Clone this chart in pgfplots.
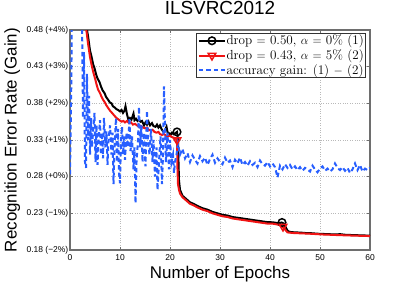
\documentclass[border=0pt]{standalone}
\usepackage{fontspec}
\setmainfont{Liberation Sans}
\newfontfamily\lmr{Latin Modern Roman}
\usepackage{pgfplots}
\pgfplotsset{compat=1.18}
\definecolor{myred}{RGB}{240,20,20}
\definecolor{myblue}{RGB}{40,95,255}
\definecolor{axgray}{RGB}{110,110,110}
\begin{document}
\begin{tikzpicture}
\begin{axis}[
  scale only axis, width=300bp, height=220bp,
  xmin=0, xmax=60, ymin=0.18, ymax=0.48,
  xtick={0,10,20,30,40,50,60},
  xticklabels={0,10,20,30,40,50,60},
  ytick={0.18,0.23,0.28,0.33,0.38,0.43,0.48},
  yticklabels={0.18 (−2\%),0.23 (−1\%),0.28 (+0\%),0.33 (+1\%),0.38 (+2\%),0.43 (+3\%),0.48 (+4\%)},
  /pgf/number format/assume math mode=true,
  ticklabel style={font=\fontsize{8.5}{10}\selectfont},
  yticklabel style={inner sep=1.5bp},
  xticklabel style={inner sep=1bp, yshift=-3bp},
  tick align=inside, major tick length=3bp,
  tick style={axgray, line width=0.6bp},
  axis line style={axgray, line width=1.2bp},
  grid=major, major grid style={dotted, gray!55, line width=0.6bp},
  title={ILSVRC2012},
  title style={font=\fontsize{19}{22}\selectfont, at={(axis description cs:0.5,1.0455)}, anchor=base},
  xlabel={Number of Epochs},
  xlabel style={font=\fontsize{17}{20}\selectfont, at={(axis description cs:0.5,-0.1286)}, anchor=base},
  ylabel={Recognition Error Rate (Gain)},
  ylabel style={font=\fontsize{17}{20}\selectfont, at={(axis description cs:-0.1777,0.5)}, anchor=base},
  legend style={at={(axis description cs:0.9867,0.9864)}, anchor=north east, draw=black!80, line width=0.6bp, fill=white,
    font=\lmr\fontsize{13.2}{15}\selectfont, inner sep=1.2bp, row sep=2.2bp, cells={anchor=west},
    nodes={inner sep=0.6bp}},
  legend image code/.code={\draw[mark repeat=2,mark phase=2] plot coordinates {(0bp,0bp) (13bp,0bp) (26bp,0bp)};},
]
\coordinate (SW) at (rel axis cs:0,0);
\coordinate (NE) at (rel axis cs:1,1);
\addlegendimage{black, line width=2bp, mark=o, mark size=3.8bp, mark options={solid, line width=1.5bp}}
\addlegendentry{drop $=$ 0.50, $\alpha$ $=$ 0\% (1)}
\addlegendimage{myred, line width=2bp, mark=triangle, mark size=4.4bp, mark options={solid, rotate=180, line width=1.5bp}}
\addlegendentry{drop $=$ 0.43, $\alpha$ $=$ 5\% (2)}
\addlegendimage{myblue, line width=2bp, dash pattern=on 4.5bp off 3bp}
\addlegendentry{accuracy gain: (1) $-$ (2)}

% (1) drop = 0.50
\addplot[black, line width=2bp, forget plot] coordinates {
(0,0.95) (1,0.75) (2,0.58) (2.5,0.52) (3,0.495) (3.3,0.484) (3.6,0.472) (4.0,0.452) (4.3,0.444) (4.6,0.434) (4.9,0.428) (5.2,0.420) (5.5,0.414) (5.9,0.409) (6.2,0.403) (6.5,0.398) (6.9,0.394) (7.2,0.389) (7.6,0.385) (8.0,0.381) (8.3,0.380) (8.6,0.376) (9.0,0.374) (9.3,0.372) (9.6,0.371) (10.0,0.369) (10.3,0.371) (10.6,0.367) (10.9,0.370) (11.1,0.376) (11.4,0.365) (11.7,0.357) (12.0,0.360) (12.3,0.358) (12.5,0.362) (12.7,0.366) (12.9,0.357) (13.2,0.359) (13.5,0.356) (13.8,0.358) (14.1,0.355) (14.4,0.356) (14.8,0.350) (15.1,0.354) (15.4,0.351) (15.7,0.355) (16.0,0.350) (16.4,0.353) (16.7,0.349) (17.1,0.348) (17.4,0.351) (17.7,0.347) (18.0,0.350) (18.3,0.345) (18.7,0.341) (19.0,0.343) (19.3,0.348) (19.5,0.341) (19.8,0.339) (20.1,0.337) (20.4,0.340) (20.7,0.338) (21.0,0.339) (21.4,0.341) (21.6,0.330) (21.7,0.30) (21.8,0.275) (22.0,0.262) (22.5,0.254) (23.0,0.251) (23.5,0.248) (24.0,0.245) (24.7,0.243) (25.5,0.240) (26.5,0.237) (27.5,0.235) (28.5,0.232) (29.5,0.230) (30.5,0.228) (31.5,0.227) (32.5,0.225) (33.5,0.224) (34.5,0.223) (35.5,0.222) (36.5,0.221) (37.5,0.220) (38.5,0.219) (39.5,0.218) (40.5,0.2178) (41.3,0.217) (41.8,0.2165) (42.3,0.2175) (42.8,0.216) (43.2,0.210) (43.6,0.2055) (44.2,0.2045) (45,0.204) (46,0.2038) (47,0.2032) (48,0.2030) (49,0.2025) (50,0.202) (51,0.2018) (52,0.2015) (53,0.2012) (54,0.2016) (55,0.2008) (56,0.2005) (57,0.2003) (58,0.2000) (59,0.1998) (60,0.1995)
};
% (2) drop = 0.43
\addplot[myred, line width=2bp, forget plot] coordinates {
(0,0.93) (1,0.72) (2,0.56) (2.5,0.51) (3,0.49) (3.3,0.478) (3.6,0.462) (4.0,0.443) (4.3,0.433) (4.6,0.424) (5.0,0.414) (5.3,0.406) (5.6,0.399) (6.0,0.394) (6.3,0.389) (6.6,0.385) (7.0,0.381) (7.3,0.377) (7.6,0.374) (8.0,0.370) (8.4,0.367) (8.9,0.363) (9.3,0.360) (9.7,0.358) (10.3,0.355) (10.7,0.356) (11.0,0.354) (11.4,0.356) (11.8,0.353) (12.2,0.354) (12.6,0.351) (13.0,0.352) (13.4,0.350) (13.8,0.348) (14.2,0.349) (14.6,0.347) (15.0,0.346) (15.4,0.347) (15.7,0.344) (16.1,0.343) (16.5,0.344) (16.9,0.341) (17.3,0.340) (17.7,0.341) (18.0,0.338) (18.4,0.337) (18.8,0.338) (19.2,0.336) (19.6,0.335) (20.0,0.336) (20.4,0.334) (20.8,0.333) (21.1,0.332) (21.4,0.330) (21.5,0.29) (21.6,0.270) (21.8,0.262) (22.0,0.257) (22.5,0.252) (23.0,0.249) (23.5,0.246) (24.0,0.243) (24.7,0.241) (25.5,0.238) (26.5,0.235) (27.5,0.233) (28.5,0.230) (29.5,0.228) (30.5,0.226) (31.5,0.225) (32.5,0.223) (33.5,0.222) (34.5,0.221) (35.5,0.220) (36.5,0.219) (37.5,0.218) (38.5,0.217) (39.5,0.216) (40.5,0.216) (41.3,0.215) (42.0,0.214) (42.5,0.212) (43.0,0.208) (43.5,0.204) (44.2,0.2035) (45,0.203) (46,0.2028) (47,0.2025) (48,0.2022) (49,0.2018) (50,0.2014) (51,0.201) (52,0.2008) (53,0.2005) (54,0.2003) (55,0.2) (56,0.1998) (57,0.1996) (58,0.1994) (59,0.1992) (60,0.199)
};
% markers
\addplot[black, only marks, mark=o, mark size=3.8bp, mark options={line width=1.5bp}, forget plot] coordinates {(21.4,0.341) (42.4,0.2175)};
\addplot[myred, only marks, mark=triangle, mark size=4.4bp, mark options={rotate=180, line width=1.5bp}, forget plot] coordinates {(21.4,0.330) (42.6,0.212)};
% gain
\addplot[myblue, line width=2bp, dash pattern=on 4.5bp off 3bp, forget plot] coordinates {
(0.0,0.283) (0.25,0.40) (0.5,0.60) (0.75,0.70) (1.0,0.75) (1.5,0.70) (2.0,0.60) (2.4,0.50) (2.6,0.36) (2.8,0.45) (3.0,0.30) (3.2,0.292) (3.4,0.42) (3.6,0.33) (3.8,0.39) (4.0,0.31) (4.2,0.36) (4.4,0.32) (4.6,0.34) (4.9,0.367) (5.1,0.30) (5.3,0.35) (5.5,0.296) (5.7,0.33) (6.0,0.357) (6.2,0.31) (6.4,0.34) (6.6,0.305) (6.8,0.36) (7.1,0.32) (7.3,0.342) (7.5,0.296) (7.7,0.33) (8.0,0.35) (8.3,0.31) (8.5,0.34) (8.7,0.27) (8.9,0.32) (9.2,0.36) (9.4,0.30) (9.6,0.345) (9.8,0.285) (10.0,0.271) (10.2,0.33) (10.4,0.348) (10.6,0.31) (10.8,0.335) (11.0,0.303) (11.3,0.34) (11.6,0.32) (11.9,0.36) (12.1,0.315) (12.4,0.335) (12.7,0.29) (12.9,0.32) (13.1,0.244) (13.3,0.30) (13.6,0.33) (13.8,0.375) (14.0,0.32) (14.3,0.35) (14.5,0.30) (14.8,0.34) (15.1,0.294) (15.4,0.37) (15.6,0.33) (15.9,0.31) (16.2,0.345) (16.5,0.30) (16.7,0.33) (17.0,0.28) (17.3,0.32) (17.5,0.262) (17.8,0.30) (18.1,0.335) (18.4,0.27) (18.6,0.31) (18.8,0.403) (19.0,0.35) (19.2,0.30) (19.5,0.34) (19.8,0.29) (20.0,0.33) (20.3,0.30) (20.6,0.31) (20.8,0.285) (21.0,0.30) (21.3,0.31) (21.6,0.325) (22.0,0.31) (22.5,0.318) (23.0,0.305) (23.5,0.312) (24.0,0.300) (24.5,0.309) (25.0,0.303) (25.5,0.298) (26.0,0.308) (26.5,0.301) (27.0,0.306) (27.5,0.296) (28.0,0.304) (28.5,0.310) (29.0,0.299) (29.5,0.305) (30.0,0.300) (30.5,0.297) (31.0,0.306) (31.5,0.299) (32.0,0.302) (32.5,0.293) (33.0,0.303) (33.5,0.298) (34.0,0.306) (34.5,0.296) (35.0,0.300) (35.5,0.295) (36.0,0.301) (36.5,0.296) (37.0,0.299) (37.5,0.293) (38.0,0.302) (38.5,0.297) (39.0,0.295) (39.5,0.300) (40.0,0.294) (40.5,0.298) (41.0,0.293) (41.5,0.279) (42.0,0.295) (42.5,0.290) (43.0,0.297) (43.5,0.292) (44.0,0.296) (44.5,0.290) (45.0,0.294) (45.5,0.289) (46.0,0.293) (46.5,0.288) (47.0,0.292) (47.5,0.290) (48.0,0.287) (48.5,0.295) (49.0,0.290) (49.5,0.286) (50.0,0.291) (50.5,0.294) (51.0,0.288) (51.5,0.291) (52.0,0.287) (52.5,0.290) (53.0,0.298) (53.5,0.292) (54.0,0.289) (54.5,0.293) (55.0,0.288) (55.5,0.292) (56.0,0.285) (56.5,0.290) (57.0,0.298) (57.5,0.289) (58.0,0.296) (58.5,0.287) (59.0,0.291) (59.5,0.289) (60.0,0.292)
};
\end{axis}
\pgfresetboundingbox
\path[use as bounding box] ([shift={(-70bp,-33bp)}]SW) rectangle ([shift={(39bp,30bp)}]NE);
\end{tikzpicture}
\end{document}
